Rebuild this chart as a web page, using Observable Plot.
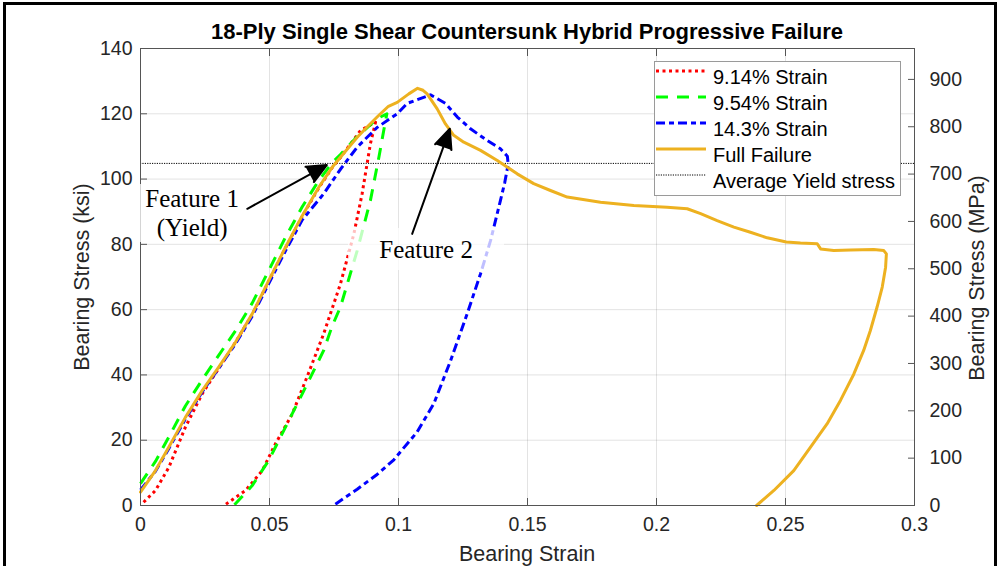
<!DOCTYPE html>
<html><head><meta charset="utf-8">
<script src="https://cdn.jsdelivr.net/npm/d3@7"></script>
<script src="https://cdn.jsdelivr.net/npm/@observablehq/plot@0.6"></script>
<style>
body{margin:0;background:#fff;}
#wrap{position:relative;width:1000px;height:566px;overflow:hidden;background:#fff;font-family:"Liberation Sans",Arial,Helvetica,sans-serif;color:#262626;}
#wrap svg{position:absolute;left:0;top:0;}
.abs{position:absolute;white-space:nowrap;}
.title{left:527px;top:20px;transform:translateX(-50%);font-weight:bold;font-size:22px;color:#000;line-height:1.117;}
.ylab{font-size:21.5px;transform:translate(-50%,-50%) rotate(-90deg);line-height:1;}
.xlab{left:527px;top:542px;transform:translateX(-50%);font-size:21.5px;line-height:1.117;}
.legend{left:654px;top:61px;width:245px;height:133px;background:#fff;border:1px solid #9a9a9a;}
.legrow{position:absolute;left:0;height:26px;width:245px;font-size:20px;color:#000;}
.legrow svg{position:absolute;left:3px;top:8px;}
.legrow span{position:absolute;left:58px;top:0px;line-height:1.117;}
.feat{font-family:"Liberation Serif","Times New Roman",serif;font-size:25px;color:#000;background:rgba(255,255,255,0.75);text-align:center;line-height:29px;transform:translate(-50%,-50%);}
.border{left:3px;top:2px;width:988px;height:620px;border:3px solid #000;border-bottom:none;}
</style></head><body><div id="wrap"></div>
<script>
// ---------- data ----------
const titleText = "18-Ply Single Shear Countersunk Hybrid Progressive Failure";
const seriesNames = ["9.14% Strain", "9.54% Strain", "14.3% Strain", "Full Failure", "Average Yield stress"];

const strain914 = [0.0012,0.0058,0.011,0.0174,0.0239,0.0303,0.0368,0.0433,0.0497,0.0562,0.0627,0.0691,0.0743,0.0775,0.0853,0.0911,0.0891,0.0859,0.0827,0.0775,0.071,0.065,0.0588,0.0523,0.0472,0.0407,0.0329];
const stress914 = [1,4.6,11.7,24,34.2,42,50,58.5,68.7,78.9,88.6,97.3,103.5,106.6,114.9,117.4,110.8,95.5,83.2,67.9,52.6,40.3,28,18.9,10.7,4.6,0.3];

const strain954 = [0,0.0058,0.011,0.0174,0.0239,0.0303,0.0368,0.0433,0.0497,0.0562,0.0627,0.0691,0.0743,0.0775,0.084,0.0917,0.0955,0.095,0.0924,0.0891,0.084,0.0775,0.0743,0.071,0.0627,0.0562,0.0497,0.0433,0.0362];
const stress954 = [6.7,13.5,21,30.5,38.5,46,53.5,62,72,82.2,91.5,99.6,105,107.5,113,118.5,120,118,106.7,93.4,78.1,60.8,55,47.5,34.2,24,13.8,6.1,0];

const strain143 = [0,0.0058,0.011,0.0174,0.0239,0.0303,0.0368,0.0433,0.0497,0.0562,0.0627,0.071,0.0775,0.084,0.0917,0.0995,0.1034,0.1124,0.1182,0.1228,0.1279,0.1344,0.1395,0.1422,0.1425,0.1412,0.1395,0.1357,0.1318,0.1266,0.1202,0.1137,0.1072,0.1008,0.0982,0.0917,0.084,0.0748];
const stress143 = [4.8,10.5,17.5,26.5,34.8,42,49.5,58,68,78,87.5,95.5,103,109.8,115.8,120,123.2,125.8,123.2,119,115.4,111.8,109.3,107,104.5,99,93.4,81.2,71,58.7,44.4,31.2,22.5,16.5,14,9.5,5,0];

const strainFull = [0,0.0058,0.011,0.0174,0.0239,0.0303,0.0368,0.0433,0.0497,0.0562,0.0627,0.0691,0.0743,0.0775,0.084,0.0885,0.0917,0.0961,0.0995,0.104,0.1074,0.1095,0.1111,0.115,0.1182,0.1214,0.1253,0.1318,0.1383,0.146,0.1524,0.1589,0.1654,0.1783,0.1912,0.2041,0.2119,0.2171,0.2235,0.23,0.2364,0.2429,0.2503,0.2558,0.2623,0.2636,0.2687,0.2752,0.2842,0.2881,0.2891,0.2888,0.2875,0.2855,0.2829,0.2803,0.2765,0.2713,0.2661,0.2597,0.2532,0.2455,0.2388];
const stressFull = [4.1,10.7,17.9,27,35.2,42.4,50,58.7,68.9,79.1,88.8,97.5,103.6,106.7,112.8,116.5,119,122.3,123.5,126.1,127.8,127.2,126.1,121.5,116.9,113.4,111.3,108.8,105.7,101.6,98.6,96.5,94.5,92.9,91.9,91.4,90.9,89.4,87.3,85.3,83.7,82,80.7,80.4,80.2,78.6,78.1,78.3,78.4,78.1,77.1,73,66.9,60.8,53.6,47.5,40.3,32.2,25,17.9,10.7,4.6,0];

const yieldStress = [104.8];

const xTicks = [0,0.05,0.1,0.15,0.2,0.25,0.3];
const xTickLabels = ["0","0.05","0.1","0.15","0.2","0.25","0.3"];
const yTicks = [0,20,40,60,80,100,120,140];
const mpaTicks = [0,100,200,300,400,500,600,700,800,900];
const KSI_TO_MPA = 6.894757;

const featureLabels = ["Feature 1<br>(Yield)", "Feature 2"];
const featureLabelX = [0.0202, 0.1109];
const featureLabelY = [89.4, 78.4];
const arrowX1 = [0.0414, 0.1053];
const arrowY1 = [90.9, 83.2];
const arrowX2 = [0.0722, 0.1199];
const arrowY2 = [104.3, 115.4];

// ---------- build tables ----------
const toRows = (xs, ys) => xs.map((x, i) => ({strain: x, stress: ys[i]}));
const d914 = toRows(strain914, stress914);
const d954 = toRows(strain954, stress954);
const d143 = toRows(strain143, stress143);
const dFull = toRows(strainFull, stressFull);
const arrows = arrowX1.map((x, i) => ({x1: x, y1: arrowY1[i], x2: arrowX2[i], y2: arrowY2[i]}));

const styles = [
  {stroke: "#FF0000", dash: "3,3.5", width: 3},
  {stroke: "#00FF00", dash: "12,9", width: 3},
  {stroke: "#0000FF", dash: "9,4,5,4", width: 3},
  {stroke: "#EDB120", dash: null, width: 3},
  {stroke: "#000000", dash: "1.2,1.2", width: 1}
];

const gridStyle = {stroke: "#262626", strokeOpacity: 0.13};
const axisColor = "#555";

const plot = Plot.plot({
  width: 1000, height: 566,
  marginLeft: 140, marginRight: 86, marginTop: 48, marginBottom: 61,
  x: {domain: [0, 0.3]},
  y: {domain: [0, 140]},
  style: {fontFamily: "'Liberation Sans', Arial, sans-serif", fontSize: "19.5px", color: "#262626", background: "transparent", overflow: "visible"},
  marks: [
    Plot.gridX(xTicks, gridStyle),
    Plot.gridY(yTicks, gridStyle),
    Plot.ruleY(yieldStress, {stroke: styles[4].stroke, strokeWidth: 1, strokeDasharray: styles[4].dash}),
    Plot.line(d914, {x: "strain", y: "stress", stroke: styles[0].stroke, strokeWidth: styles[0].width, strokeDasharray: styles[0].dash, strokeLinecap: "butt"}),
    Plot.line(d954, {x: "strain", y: "stress", stroke: styles[1].stroke, strokeWidth: styles[1].width, strokeDasharray: styles[1].dash, strokeLinecap: "butt"}),
    Plot.line(d143, {x: "strain", y: "stress", stroke: styles[2].stroke, strokeWidth: styles[2].width, strokeDasharray: styles[2].dash, strokeLinecap: "butt"}),
    Plot.line(dFull, {x: "strain", y: "stress", stroke: styles[3].stroke, strokeWidth: styles[3].width}),
    Plot.frame({stroke: axisColor}),
    Plot.axisX({ticks: xTicks, tickFormat: (d) => xTickLabels[xTicks.indexOf(d)], tickSize: -7, tickPadding: 19, label: null, stroke: axisColor}),
    Plot.axisX({anchor: "top", ticks: xTicks, tickFormat: () => "", tickSize: -7, label: null, stroke: axisColor}),
    Plot.axisY({ticks: yTicks, tickSize: -7, tickPadding: 15, label: null, stroke: axisColor}),
    Plot.axisY({anchor: "right", ticks: mpaTicks.map(m => m / KSI_TO_MPA), tickFormat: d => String(Math.round(d * KSI_TO_MPA)), tickSize: -7, tickPadding: 22, label: null, stroke: axisColor})
  ]
});

const wrap = document.getElementById("wrap");
wrap.appendChild(plot);

const sx = plot.scale("x"), sy = plot.scale("y");
const fx = sx.apply ? (v => sx.apply(v)) : d3.scaleLinear(sx.domain, sx.range);
const fy = sy.apply ? (v => sy.apply(v)) : d3.scaleLinear(sy.domain, sy.range);

function addDiv(cls, html, css) {
  const d = document.createElement("div");
  d.className = "abs " + cls;
  d.innerHTML = html;
  Object.assign(d.style, css || {});
  wrap.appendChild(d);
  return d;
}

addDiv("title", titleText);
addDiv("ylab", "Bearing Stress (ksi)", {left: "83px", top: "277px"});
addDiv("ylab", "Bearing Stress (MPa)", {left: "978px", top: "278px"});
addDiv("xlab", "Bearing Strain");

// feature labels (semi-transparent white boxes, positioned through the plot's scales)
const featBox = [{w: 116, h: 58}, {w: 156, h: 42}];
featureLabels.forEach((t, i) => {
  addDiv("feat", t, {left: fx(featureLabelX[i]) + "px", top: fy(featureLabelY[i]) + "px", width: featBox[i].w + "px", height: featBox[i].h + "px", display: "flex", alignItems: "center", justifyContent: "center"});
});

// arrow layer sharing the same scale setup
const arrowPlot = Plot.plot({
  width: 1000, height: 566,
  marginLeft: 140, marginRight: 86, marginTop: 48, marginBottom: 61,
  x: {domain: [0, 0.3], axis: null},
  y: {domain: [0, 140], axis: null},
  style: {background: "transparent", overflow: "visible"},
  marks: [
    Plot.arrow(arrows, {x1: "x1", y1: "y1", x2: "x2", y2: "y2", stroke: "black", fill: "black", strokeWidth: 2, headLength: 16, headAngle: 48})
  ]
});
wrap.appendChild(arrowPlot);

// legend
const leg = addDiv("legend", "");
seriesNames.forEach((name, i) => {
  const row = document.createElement("div");
  row.className = "legrow";
  row.style.top = (4 + i * 26) + "px";
  const s = styles[i];
  row.innerHTML = `<svg width="52" height="10"><line x1="1" y1="5" x2="51" y2="5" stroke="${s.stroke}" stroke-width="${s.width}" ${s.dash ? `stroke-dasharray="${s.dash}"` : ""}/></svg><span>${name}</span>`;
  leg.appendChild(row);
});

addDiv("border", "");
</script></body></html>
